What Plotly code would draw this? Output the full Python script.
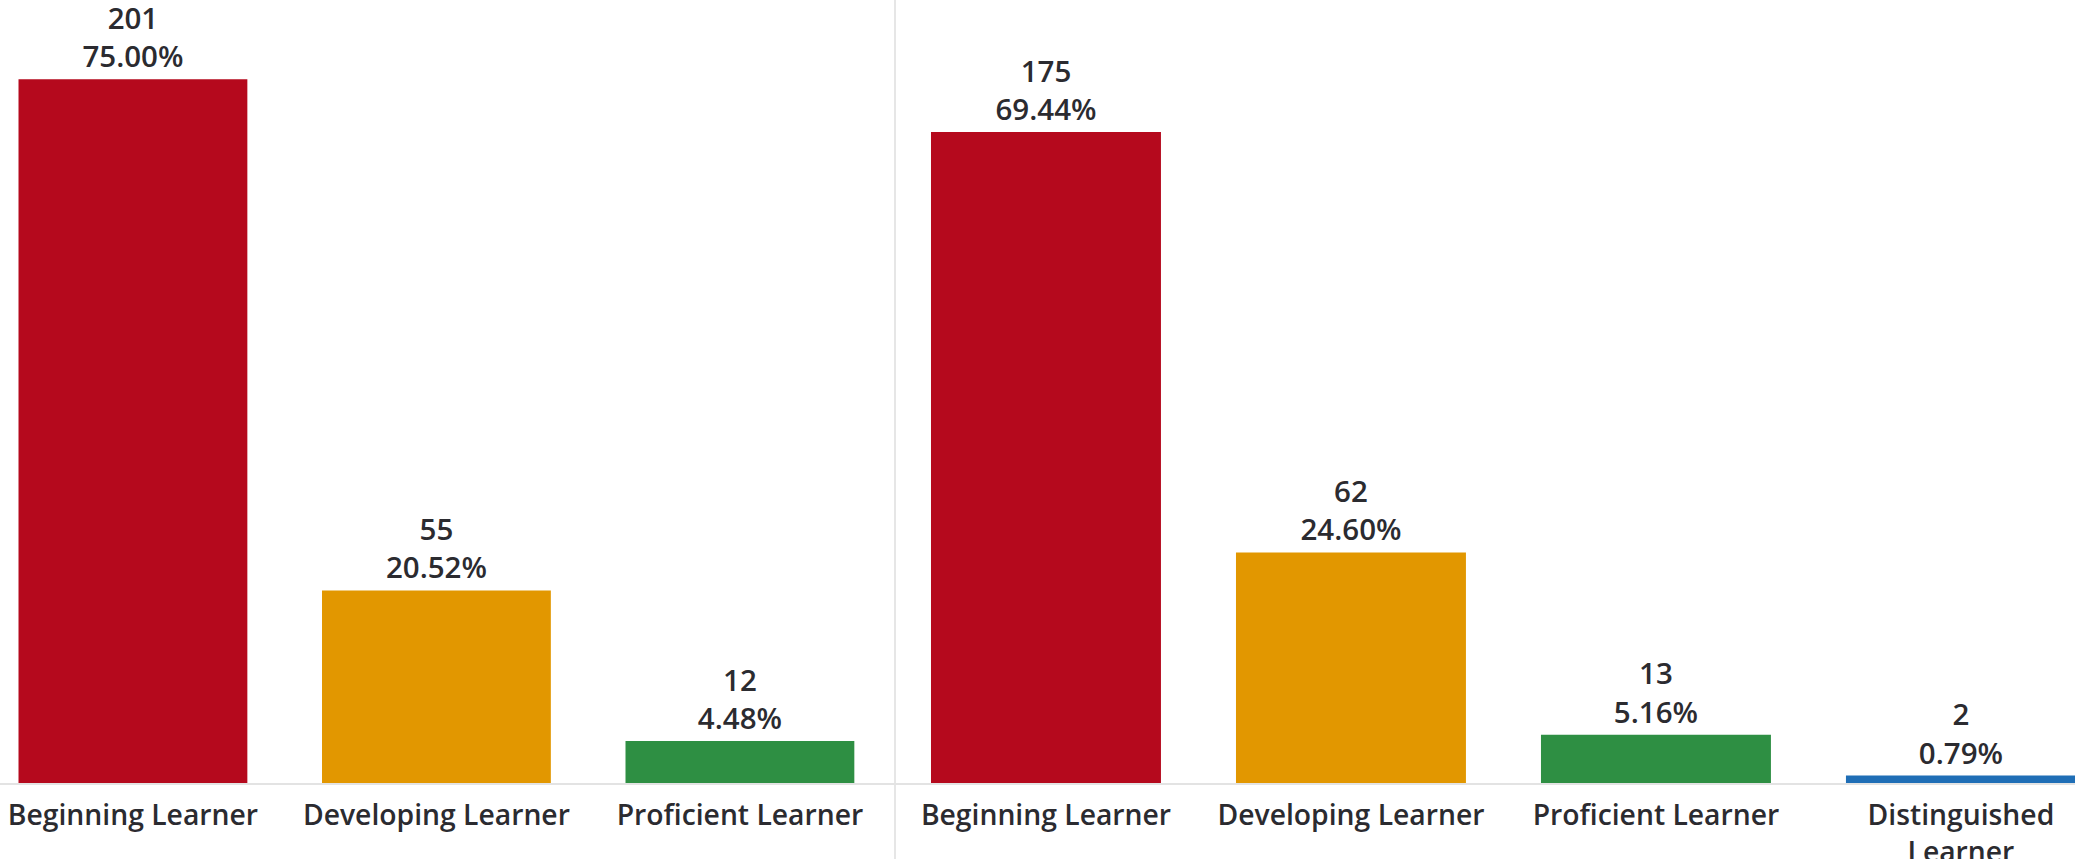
import plotly.graph_objects as go

# ---- data ----
left_categories = ["Beginning Learner", "Developing Learner", "Proficient Learner"]
left_counts = [201, 55, 12]
left_pcts = ["75.00%", "20.52%", "4.48%"]

right_categories = ["Beginning Learner", "Developing Learner", "Proficient Learner", "Distinguished<br>Learner"]
right_counts = [175, 62, 13, 2]
right_pcts = ["69.44%", "24.60%", "5.16%", "0.79%"]

level_colors = {
    "Beginning Learner": "#B5091D",
    "Developing Learner": "#E29700",
    "Proficient Learner": "#2E8F43",
    "Distinguished<br>Learner": "#1F6EB6",
}

W, H = 2075, 859
DIV_X = 895
BASE_Y = 783

FONT = "Open Sans"
TXT_COLOR = "#2b2b30"

fig = go.Figure()

fig.add_trace(go.Bar(
    x=list(range(len(left_categories))),
    y=left_counts,
    width=0.754,
    marker=dict(color=[level_colors[c] for c in left_categories], line=dict(width=0)),
    text=[f"{c}<br>{p}" for c, p in zip(left_counts, left_pcts)],
    textposition="outside",
    cliponaxis=False,
    textfont=dict(family=FONT, size=29.5, color=TXT_COLOR, weight=600),
    xaxis="x", yaxis="y",
    hoverinfo="skip",
))

fig.add_trace(go.Bar(
    x=list(range(len(right_categories))),
    y=right_counts,
    width=0.754,
    marker=dict(color=[level_colors[c] for c in right_categories], line=dict(width=0)),
    text=[f"{c}<br>{p}" for c, p in zip(right_counts, right_pcts)],
    textposition="outside",
    cliponaxis=False,
    textfont=dict(family=FONT, size=29.5, color=TXT_COLOR, weight=600),
    xaxis="x2", yaxis="y2",
    hoverinfo="skip",
))

ydom = [(H - BASE_Y) / H, 1.0]
tickfont = dict(family=FONT, size=28.3, color=TXT_COLOR, weight=600)

fig.update_layout(
    width=W, height=H,
    autosize=False,
    margin=dict(l=0, r=0, t=0, b=0, autoexpand=False),
    paper_bgcolor="white", plot_bgcolor="white",
    showlegend=False,
    xaxis=dict(
        domain=[0, DIV_X / W],
        range=[-0.438, 2.511],
        tickmode="array",
        tickvals=list(range(len(left_categories))),
        ticktext=left_categories,
        tickfont=tickfont,
        ticklabelstandoff=6,
        automargin=False,
        showgrid=False, zeroline=False,
        showline=True, linecolor="#e3e3e3", linewidth=2,
        ticks="", fixedrange=True,
        anchor="y",
    ),
    yaxis=dict(
        domain=ydom,
        range=[0, 223.6],
        visible=False,
        automargin=False,
        fixedrange=True,
        anchor="x",
    ),
    xaxis2=dict(
        domain=[DIV_X / W, 1.0],
        range=[-0.495, 3.374],
        tickmode="array",
        tickvals=list(range(len(right_categories))),
        ticktext=right_categories,
        tickfont=tickfont,
        ticklabelstandoff=6,
        automargin=False,
        showgrid=False, zeroline=False,
        showline=True, linecolor="#e3e3e3", linewidth=2,
        ticks="", fixedrange=True,
        anchor="y2",
    ),
    yaxis2=dict(
        domain=ydom,
        range=[0, 210.5],
        visible=False,
        automargin=False,
        fixedrange=True,
        anchor="x2",
    ),
    shapes=[
        dict(type="line", xref="paper", yref="paper",
             x0=DIV_X / W, x1=DIV_X / W, y0=0, y1=1,
             line=dict(color="#e6e6e6", width=2), layer="below"),
    ],
)

fig.write_html(
    "out.html",
    config={"displayModeBar": False, "responsive": False, "staticPlot": True},
    post_script="document.body.style.margin='0';",
)
